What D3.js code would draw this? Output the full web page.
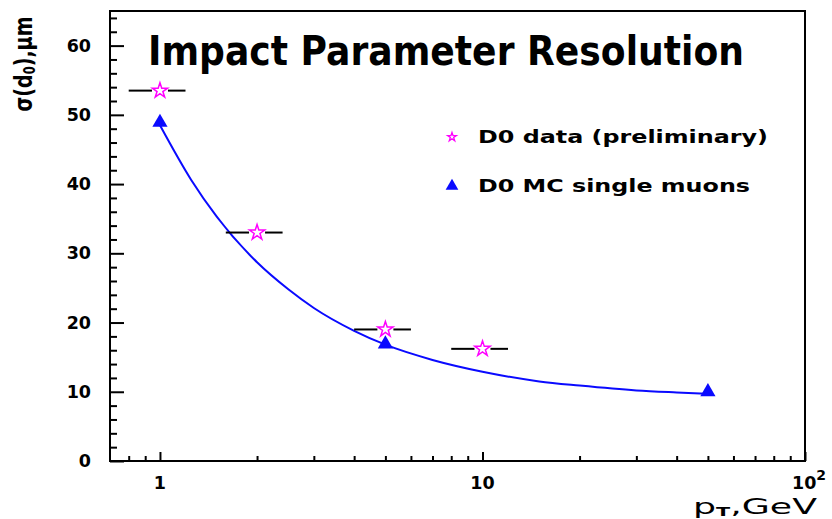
<!DOCTYPE html>
<html>
<head>
<meta charset="utf-8">
<script src="https://cdn.jsdelivr.net/npm/d3@7"></script>
<style>
  html, body { margin: 0; padding: 0; background: #fff; }
  svg { display: block; }
  text { font-family: "DejaVu Sans", sans-serif; fill: #000; }
</style>
</head>
<body>
<svg id="chart" width="832" height="519"></svg>
<script>
// Measured impact parameter resolution (stars, with horizontal bin widths)
const dataPt   = [1, 2, 5, 10];
const dataSig  = [53.5, 33.0, 19.0, 16.2];
const dataPtLo = [0.8, 1.6, 4, 8];
const dataPtHi = [1.2, 2.4, 6, 12];

// Monte Carlo single muons (triangles)
const mcPt  = [1, 5, 50];
const mcSig = [48.9, 16.9, 10.0];

// Smooth fit curve through the MC points
const fitPt  = [1, 1.25, 1.5, 2, 2.5, 3, 4, 5, 7, 10, 15, 20, 30, 40, 50];
const fitSig = [48.5, 40.6, 35.3, 28.7, 24.8, 22.1, 18.8, 16.8, 14.6, 12.9, 11.5, 10.9, 10.2, 9.9, 9.7];

// Axis ticks
const yMajor = [0, 10, 20, 30, 40, 50, 60];
const yMinor = [2, 4, 6, 8, 12, 14, 16, 18, 22, 24, 26, 28, 32, 34, 36, 38, 42, 44, 46, 48, 52, 54, 56, 58, 62, 64];
const xMajor = [1, 10, 100];
const xMinor = [0.8, 0.9, 2, 3, 4, 5, 6, 7, 8, 9, 20, 30, 40, 50, 60, 70, 80, 90];

const legendLabels = ["D0 data (preliminary)", "D0 MC single muons"];
const legendWidths = [290, 272];

const svg = d3.select("#chart");
const pL = 110, pR = 805, pT = 11, pB = 461;

const x = d3.scaleLog().domain([0.7, 100]).range([pL, pR]);
const y = d3.scaleLinear().domain([0, 65]).range([pB, pT]);

const blue = "#0a0aff", magenta = "#ff00ff";

// Frame
svg.append("rect")
  .attr("x", pL).attr("y", pT)
  .attr("width", pR - pL).attr("height", pB - pT)
  .attr("fill", "none").attr("stroke", "#000").attr("stroke-width", 2);

// Y axis: inward ticks
const yAxisMajor = d3.axisRight(y).tickValues(yMajor).tickSize(14).tickFormat("");
const yAxisMinor = d3.axisRight(y).tickValues(yMinor).tickSize(7).tickFormat("");
[yAxisMajor, yAxisMinor].forEach(ax => {
  const g = svg.append("g").attr("transform", `translate(${pL},0)`).call(ax);
  g.select(".domain").remove();
  g.selectAll("line").attr("stroke", "#000").attr("stroke-width", 2);
});
svg.append("g").selectAll("text").data(yMajor).join("text")
  .attr("x", 91).attr("y", d => y(d) + 6)
  .attr("text-anchor", "end")
  .attr("font-size", 17.5).attr("font-weight", "bold")
  .text(d => d);

// X axis: inward ticks
const xAxisMajor = d3.axisTop(x).tickValues(xMajor).tickSize(9).tickFormat("");
const xAxisMinor = d3.axisTop(x).tickValues(xMinor).tickSize(5).tickFormat("");
[xAxisMajor, xAxisMinor].forEach(ax => {
  const g = svg.append("g").attr("transform", `translate(0,${pB})`).call(ax);
  g.select(".domain").remove();
  g.selectAll("line").attr("stroke", "#000").attr("stroke-width", 2);
});
const xLab = svg.append("g");
xLab.append("text").attr("x", x(1)).attr("y", 489).attr("text-anchor", "middle")
  .attr("font-size", 17.5).attr("font-weight", "bold").text("1");
xLab.append("text").attr("x", x(10)).attr("y", 489).attr("text-anchor", "middle")
  .attr("font-size", 17.5).attr("font-weight", "bold").text("10");
const t100 = xLab.append("text").attr("x", x(100) - 13).attr("y", 489)
  .attr("font-size", 17.5).attr("font-weight", "bold");
t100.append("tspan").text("10");
t100.append("tspan").attr("dy", -9).attr("font-size", 14).text("2");

// Axis titles
const xt = svg.append("text").attr("x", 693).attr("y", 514)
  .attr("font-size", 21)
  .attr("textLength", 124).attr("lengthAdjust", "spacingAndGlyphs");
xt.append("tspan").text("p");
xt.append("tspan").attr("font-size", 12).attr("font-weight", "bold").attr("dy", 2).text("T");
xt.append("tspan").attr("dy", -2).text(",GeV");

const yt = svg.append("text").attr("transform", "translate(32,64) rotate(-90)")
  .attr("text-anchor", "middle").attr("font-size", 25).attr("font-weight", "bold")
  .attr("textLength", 95).attr("lengthAdjust", "spacingAndGlyphs");
yt.append("tspan").text("σ(d");
yt.append("tspan").attr("font-size", 15).attr("dy", 3).text("0");
yt.append("tspan").attr("dy", -3).text("),μm");

// Title
svg.append("text").attr("x", 148).attr("y", 65)
  .attr("font-family", "Lato, sans-serif").attr("font-weight", "bold")
  .attr("font-size", 41).attr("textLength", 596).attr("lengthAdjust", "spacingAndGlyphs")
  .text("Impact Parameter Resolution");

// Fit curve
const line = d3.line().x(d => x(d[0])).y(d => y(d[1])).curve(d3.curveMonotoneX);
svg.append("path").datum(d3.zip(fitPt, fitSig))
  .attr("d", line).attr("fill", "none").attr("stroke", blue).attr("stroke-width", 2);

// MC triangles
const tri = d3.symbol().type(d3.symbolTriangle).size(100);
svg.append("g").selectAll("path").data(d3.zip(mcPt, mcSig)).join("path")
  .attr("transform", d => `translate(${x(d[0])},${y(d[1])})`)
  .attr("d", tri).attr("fill", blue);

// Data: horizontal bars with a gap at the star
const starR = 8;
const dataG = svg.append("g");
dataPt.forEach((p, i) => {
  const cx = x(p), cy = y(dataSig[i]);
  dataG.append("line").attr("x1", x(dataPtLo[i])).attr("x2", cx - starR)
    .attr("y1", cy).attr("y2", cy).attr("stroke", "#000").attr("stroke-width", 2);
  dataG.append("line").attr("x1", cx + starR).attr("x2", x(dataPtHi[i]))
    .attr("y1", cy).attr("y2", cy).attr("stroke", "#000").attr("stroke-width", 2);
});
const star = d3.symbol().type(d3.symbolStar).size(starR * starR / 0.8908);
dataG.selectAll("path").data(d3.zip(dataPt, dataSig)).join("path")
  .attr("transform", d => `translate(${x(d[0])},${y(d[1])})`)
  .attr("d", star).attr("fill", "#fff").attr("stroke", magenta).attr("stroke-width", 1.5);

// Legend
const leg = svg.append("g");
leg.append("path").attr("transform", "translate(452,137)")
  .attr("d", d3.symbol().type(d3.symbolStar).size(24)())
  .attr("fill", "#fff").attr("stroke", magenta).attr("stroke-width", 1.3);
leg.append("path").attr("transform", "translate(452,186)")
  .attr("d", d3.symbol().type(d3.symbolTriangle).size(70)())
  .attr("fill", blue);
leg.selectAll("text").data(legendLabels).join("text")
  .attr("x", 478).attr("y", (d, i) => 143 + i * 49)
  .attr("font-size", 17).attr("font-weight", "bold")
  .attr("textLength", (d, i) => legendWidths[i]).attr("lengthAdjust", "spacingAndGlyphs")
  .text(d => d);
</script>
</body>
</html>
